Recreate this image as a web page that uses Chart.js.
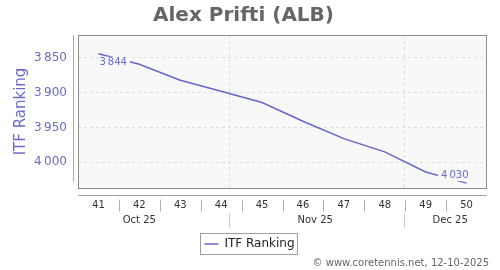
<!DOCTYPE html>
<html>
<head>
<meta charset="utf-8">
<script src="https://cdn.jsdelivr.net/npm/chart.js@4.4.1/dist/chart.umd.min.js"></script>
<style>
  html, body { margin: 0; padding: 0; background: #fff; }
</style>
</head>
<body>
<canvas id="rankChart" width="500" height="270"></canvas>
<script>
const weeks = [41, 42, 43, 44, 45, 46, 47, 48, 49, 50];
const ranks = [3844, 3859, 3882, 3898, 3914, 3941, 3966, 3985, 4014, 4030];
const rankTicks = [3850, 3900, 3950, 4000];
const monthNames = ['Oct 25', 'Nov 25', 'Dec 25'];
const monthCenters = [42.0, 46.3, 49.6];
const monthStarts = [44.2, 48.48];

const blue = '#6666cc';
const blueText = '#6a6acc';
const plotBg = '#f8f8f8';

const fmt = (n) => String(n).replace(/\B(?=(\d{3})+(?!\d))/g, '\u202F');

const framePlugin = {
	id: 'frame',
	afterLayout(chart) {
		// legend sits centred on the whole canvas, not the padded box
		chart.legend.left += 6;
		chart.legend.right += 6;
	},
	beforeDraw(chart) {
		const { ctx, chartArea: a } = chart;
		ctx.save();
		ctx.fillStyle = plotBg;
		ctx.fillRect(a.left, a.top, a.right - a.left, a.bottom - a.top);
		ctx.restore();
	},
	beforeDatasetsDraw(chart) {
		const { ctx, chartArea: a, scales } = chart;
		const x = scales.x;
		ctx.save();
		// month gridlines
		ctx.strokeStyle = '#dddddd';
		ctx.lineWidth = 1;
		ctx.setLineDash([3, 3]);
		monthStarts.forEach((m) => {
			const px = Math.round(x.getPixelForValue(m)) + 0.5;
			ctx.beginPath();
			ctx.moveTo(px, a.top);
			ctx.lineTo(px, a.bottom);
			ctx.stroke();
		});
		ctx.setLineDash([]);
		// plot border
		ctx.strokeStyle = '#8c8c8c';
		ctx.strokeRect(a.left + 0.5, a.top + 0.5, a.right - a.left - 1, a.bottom - a.top);
		// y axis line
		ctx.strokeStyle = '#a8a8dc';
		ctx.beginPath();
		ctx.moveTo(a.left - 4.5, a.top);
		ctx.lineTo(a.left - 4.5, a.bottom - 6);
		ctx.stroke();
		// x axis line
		const ay = a.bottom + 7.5;
		ctx.strokeStyle = '#a0a0a0';
		ctx.beginPath();
		ctx.moveTo(a.left, ay);
		ctx.lineTo(a.right, ay);
		ctx.stroke();
		// week separators
		ctx.strokeStyle = '#b0b0b0';
		weeks.slice(0, -1).forEach((w) => {
			const px = Math.round(x.getPixelForValue(w + 0.5)) + 0.5;
			ctx.beginPath();
			ctx.moveTo(px, ay + 4);
			ctx.lineTo(px, ay + 16);
			ctx.stroke();
		});
		// month separators and labels
		ctx.strokeStyle = '#c8c8c8';
		monthStarts.forEach((m) => {
			const px = Math.round(x.getPixelForValue(m)) + 0.5;
			ctx.beginPath();
			ctx.moveTo(px, ay + 18);
			ctx.lineTo(px, ay + 32);
			ctx.stroke();
		});
		ctx.fillStyle = '#333333';
		ctx.font = '10px "DejaVu Sans"';
		ctx.textAlign = 'center';
		ctx.textBaseline = 'middle';
		monthNames.forEach((name, i) => {
			ctx.fillText(name, x.getPixelForValue(monthCenters[i]), ay + 25);
		});
		ctx.restore();
	},
	afterDatasetsDraw(chart) {
		const { ctx } = chart;
		const pts = chart.getDatasetMeta(0).data;
		const labels = [
			{ i: 0, align: 'left', dy: 9 },
			{ i: pts.length - 1, align: 'right', dy: -8 },
		];
		ctx.save();
		ctx.font = '10px "DejaVu Sans"';
		ctx.textBaseline = 'middle';
		labels.forEach((l) => {
			const p = pts[l.i];
			const text = fmt(ranks[l.i]);
			const w = ctx.measureText(text).width;
			const tx = p.x + (l.align === 'left' ? 1 : 2);
			const ty = p.y + l.dy;
			const left = l.align === 'left' ? tx - 1 : tx - w - 3;
			ctx.fillStyle = plotBg;
			ctx.fillRect(left, ty - 6, w + 4, 12);
			ctx.fillStyle = blueText;
			ctx.textAlign = l.align;
			ctx.fillText(text, tx, ty);
		});
		ctx.restore();
	},
	afterDraw(chart) {
		const { ctx, legend } = chart;
		ctx.save();
		const hb = legend.legendHitBoxes[0];
		if (hb) {
			ctx.strokeStyle = '#a0a0a0';
			ctx.lineWidth = 1;
			ctx.strokeRect(Math.round(hb.left) - 3.5, Math.round(hb.top) - 4.5, Math.round(hb.width) + 7, Math.round(hb.height) + 9);
		}
		ctx.fillStyle = '#666666';
		ctx.font = '10px "DejaVu Sans"';
		ctx.textAlign = 'right';
		ctx.textBaseline = 'middle';
		ctx.fillText('\u00A9 www.coretennis.net, 12-10-2025', 489, 263);
		ctx.restore();
	},
};

const rankChart = new Chart(document.getElementById('rankChart').getContext('2d'), {
	type: 'line',
	data: {
		datasets: [
			{
				label: 'ITF Ranking',
				data: weeks.map((w, i) => ({ x: w, y: ranks[i] })),
				borderColor: blue,
				backgroundColor: blue,
				borderWidth: 1.5,
				pointRadius: 0,
				tension: 0,
				fill: false,
			},
		],
	},
	options: {
		responsive: false,
		animation: false,
		devicePixelRatio: 1,
		layout: { padding: { left: 0, right: 13, top: 0, bottom: 10 } },
		scales: {
			x: {
				type: 'linear',
				min: 40.5,
				max: 50.5,
				afterBuildTicks: (scale) => {
					scale.ticks = weeks.map((w) => ({ value: w }));
				},
				afterFit: (scale) => {
					scale.height = 40;
				},
				grid: { display: false, drawTicks: false },
				border: { display: false },
				ticks: {
					padding: 11,
					color: '#333333',
					font: { family: 'DejaVu Sans', size: 10 },
					maxRotation: 0,
					autoSkip: false,
				},
			},
			y: {
				reverse: true,
				min: 3817,
				max: 4037,
				afterBuildTicks: (scale) => {
					scale.ticks = rankTicks.map((v) => ({ value: v }));
				},
				afterFit: (scale) => {
					scale.width = 78;
				},
				grid: { color: '#dddddd', drawTicks: false },
				border: { display: false, dash: [3, 3] },
				ticks: {
					padding: 11,
					color: blueText,
					font: { family: 'DejaVu Sans', size: 12 },
					callback: (v) => fmt(v),
				},
				title: {
					display: true,
					text: 'ITF Ranking',
					color: blueText,
					font: { family: 'DejaVu Sans', size: 15 },
					padding: { top: 12, bottom: 0 },
				},
			},
		},
		plugins: {
			title: {
				display: true,
				text: 'Alex Prifti (ALB)',
				color: '#666666',
				font: { family: 'DejaVu Sans', size: 20, weight: 'bold' },
				padding: { top: 4, bottom: 7 },
			},
			legend: {
				position: 'bottom',
				labels: {
					usePointStyle: true,
					pointStyle: 'line',
					pointStyleWidth: 14,
					padding: 10,
					color: '#222222',
					font: { family: 'DejaVu Sans', size: 12 },
				},
			},
			tooltip: { enabled: false },
		},
	},
	plugins: [framePlugin],
});
</script>
</body>
</html>
